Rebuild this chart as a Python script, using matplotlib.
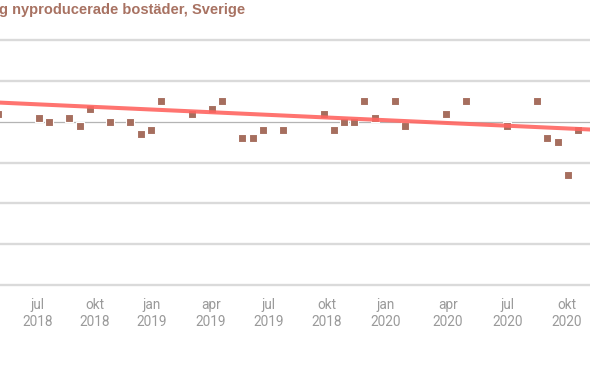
import matplotlib
matplotlib.use("Agg")
import matplotlib.pyplot as plt
import numpy as np

# periods (roughly two per month), 0 = first point under "jul 2018"
period = [-4, 0, 1, 3, 4, 5, 7, 9, 10, 11, 12, 15, 17, 18, 20, 21, 22, 24,
          28, 29, 30, 31, 32, 33, 35, 36, 40, 42, 46, 49, 50, 51, 52, 53]
# change per period
change = [0.2, 0.1, 0.0, 0.1, -0.1, 0.3, 0.0, 0.0, -0.3, -0.2, 0.5, 0.2, 0.3, 0.5,
          -0.4, -0.4, -0.2, -0.2, 0.2, -0.2, 0.0, 0.0, 0.5, 0.1, 0.5, -0.1, 0.2,
          0.5, -0.1, 0.5, -0.4, -0.5, -1.3, -0.2]

# trend line end points
trend_x = [-4, 55]
trend_y = [0.47, -0.20]

tick_pos = [-0.1, 5.5, 11.1, 16.9, 22.6, 28.3, 34.1, 40.2, 46.1, 51.9]
tick_labels = ["jul\n2018", "okt\n2018", "jan\n2019", "apr\n2019", "jul\n2019",
               "okt\n2018", "jan\n2020", "apr\n2020", "jul\n2020", "okt\n2020"]
grid_vals = [2, 1, -1, -2, -3, -4]

fig = plt.figure(figsize=(5.9, 3.65), dpi=100)
ax = fig.add_axes([0, 1 - 290 / 365, 1, 260 / 365])

for g in grid_vals:
    ax.axhline(g, color="#dadada", lw=1.7, zorder=1)
ax.axhline(0, color="#b4b4b4", lw=0.9, zorder=1)

ax.scatter(period, change, marker="s", s=38, color="#a66e5e",
           edgecolors="white", linewidths=0.8, zorder=3)
ax.plot(trend_x, trend_y, color="#ff6560", lw=2.9, alpha=0.9,
        solid_capstyle="butt", zorder=4)

ax.set_xlim(-3.83, 54.18)
ax.set_ylim(-4.123, 2.247)
ax.set_xticks(tick_pos)
ax.set_xticklabels(tick_labels, color="#9a9a9a", fontsize=9.8, family="Roboto",
                   fontweight="normal", linespacing=1.2)
ax.tick_params(axis="x", length=0, pad=6)
ax.set_yticks([])
for s in ax.spines.values():
    s.set_visible(False)

fig.text(-0.002, 1 - 10 / 365, "g nyproducerade bostäder, Sverige", color="#a87262",
         fontsize=10.5, fontweight="bold", family="Liberation Sans", va="center")

fig.savefig("out.png", dpi=100)
